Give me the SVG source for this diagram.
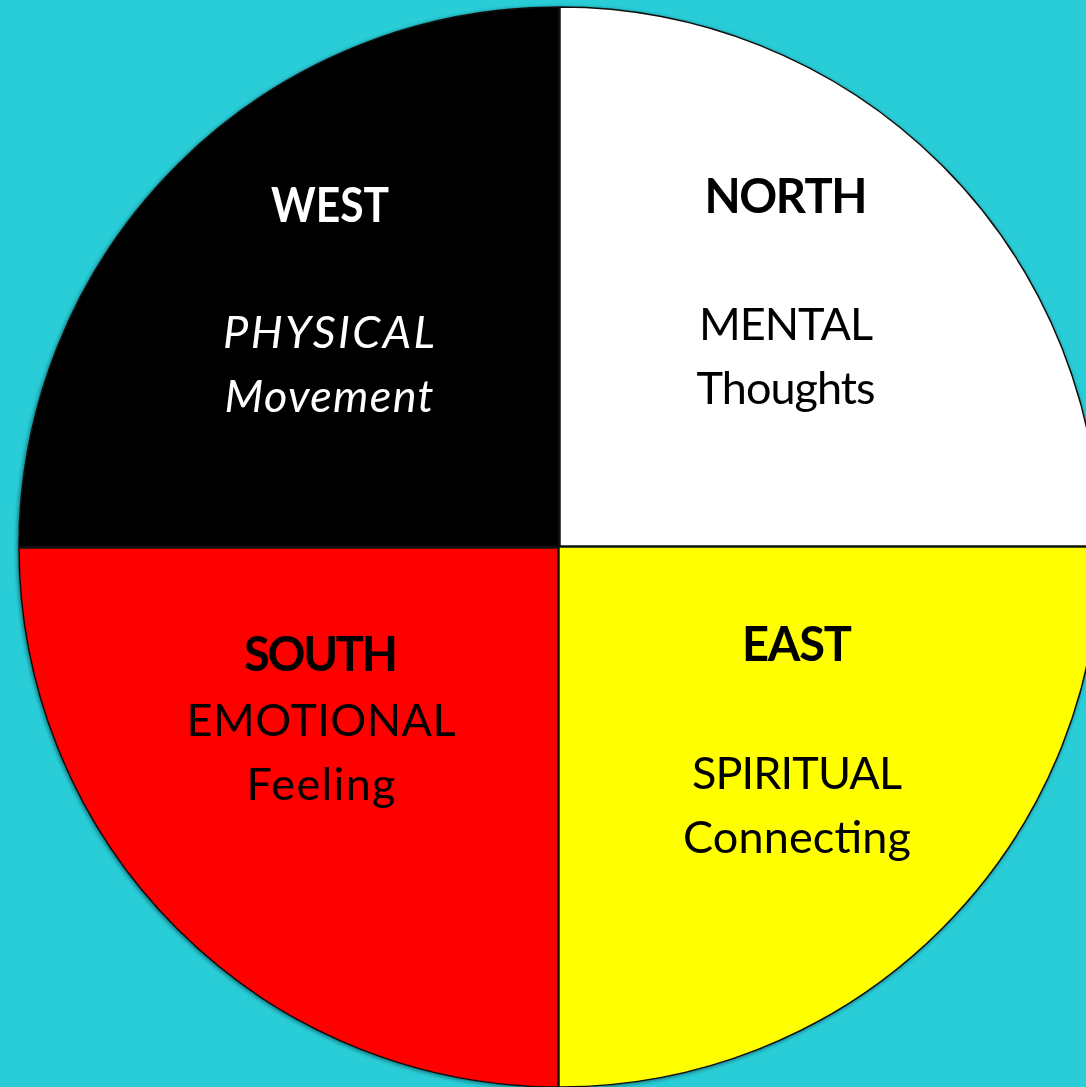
<svg xmlns="http://www.w3.org/2000/svg" width="1086" height="1087" viewBox="0 0 1086 1087">
<style>
.q{stroke:#111;stroke-width:1.5}
text{font-family:Lato,"Open Sans","Liberation Sans",sans-serif;text-anchor:middle}
.h{font-weight:700;font-size:47px;font-kerning:none}
.s{font-size:45px}
.i{font-style:italic}
.w{fill:#fff}
.k{fill:#000}
</style>
<defs>
<filter id="sh" x="-10%" y="-10%" width="120%" height="120%">
<feGaussianBlur in="SourceAlpha" stdDeviation="2"/>
<feOffset dx="-1" dy="1"/>
<feComponentTransfer><feFuncA type="linear" slope="0.5"/></feComponentTransfer>
<feMerge><feMergeNode/><feMergeNode in="SourceGraphic"/></feMerge>
</filter>
</defs>
<rect width="1086" height="1087" fill="#28CDD7"/>
<g filter="url(#sh)">
<g id="west">
<path class="q" d="M559,547 L559,7 A540,540 0 0 0 19,547 Z" fill="#000"/>
<text class="h w" x="330" y="222" textLength="118" lengthAdjust="spacingAndGlyphs">WEST</text>
<text class="s w i" x="329" y="348" textLength="212">PHYSICAL</text>
<text class="s w i" x="329" y="412" textLength="209">Movement</text>
</g>
<g id="north">
<path class="q" d="M560,546 L560,7 A540,540 0 0 1 1100,546 Z" fill="#fff"/>
<text class="h k" x="786" y="213" textLength="163">NORTH</text>
<text class="s k" x="786" y="340" textLength="174">MENTAL</text>
<text class="s k" x="786" y="404" textLength="179">Thoughts</text>
</g>
<g id="south">
<path class="q" d="M558,548 L19,548 A540,540 0 0 0 558,1087 Z" fill="#f00"/>
<text class="h k" x="321" y="671" textLength="154">SOUTH</text>
<text class="s k" x="321" y="736" textLength="269">EMOTIONAL</text>
<text class="s k" x="321" y="800" textLength="149">Feeling</text>
</g>
<g id="east">
<path class="q" d="M559,547 L1100,547 A540,540 0 0 1 559,1087 Z" fill="#ff0"/>
<text class="h k" x="797" y="661" textLength="110">EAST</text>
<text class="s k" x="797" y="789" textLength="210">SPIRITUAL</text>
<text class="s k" x="797" y="853" textLength="228">Connecting</text>
</g>
</g>
<g id="connectors"/>
</svg>
